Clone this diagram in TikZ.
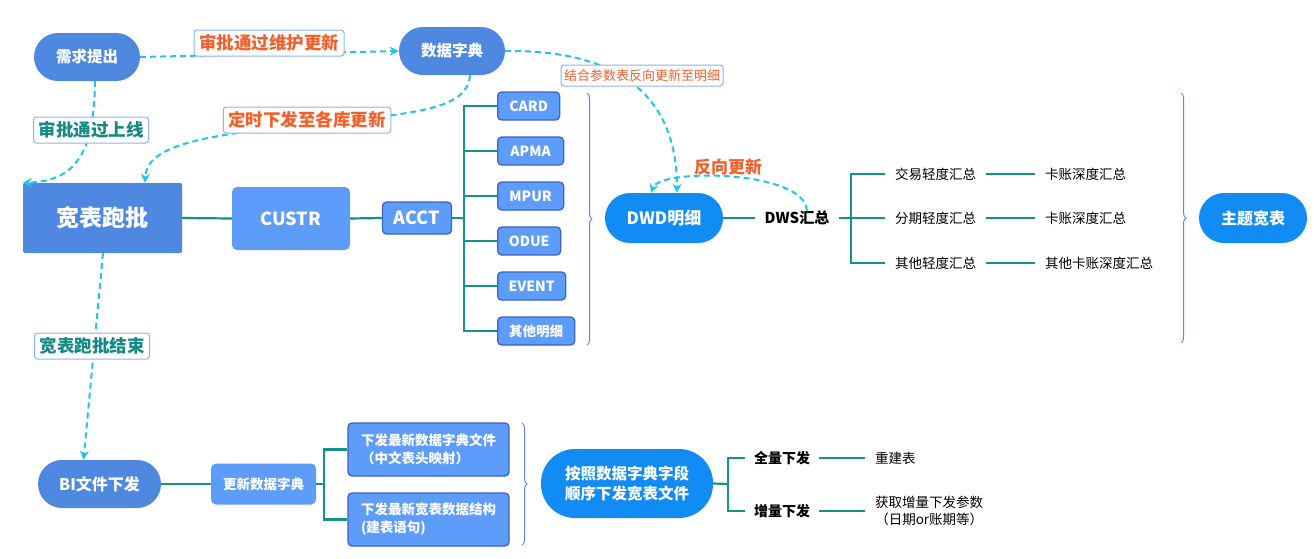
\documentclass[tikz,border=0pt]{standalone}
\usepackage{fontspec}
\newfontfamily\cjk{Noto Sans CJK SC}
\usetikzlibrary{arrows.meta,decorations.pathreplacing}
\definecolor{pillA}{HTML}{4F88E0}
\definecolor{boxB}{HTML}{5E9CFA}
\definecolor{boxEdge}{HTML}{3D63C6}
\definecolor{pillC}{HTML}{118CF4}
\definecolor{tealC}{HTML}{14918A}
\definecolor{cyanD}{HTML}{22C4EE}
\definecolor{orangeT}{HTML}{F2602C}
\definecolor{tealT}{HTML}{138A84}
\definecolor{lblEdge}{HTML}{8CB2F4}
\definecolor{braceC}{HTML}{5A86E4}
\newcommand\fsz[2]{\fontsize{#1}{#2}\selectfont}
\begin{document}
\begin{tikzpicture}[x=1pt,y=-1pt,
  every node/.style={font=\cjk, inner sep=0pt},
  pillD/.style={fill=pillA, rounded corners=24pt, text=white, font=\cjk\bfseries\fsz{15.5}{19}},
  pillB/.style={fill=pillC, rounded corners=25pt, text=white, font=\cjk\bfseries\fsz{16}{19}},
  boxL/.style={fill=boxB, rounded corners=5pt, text=white, font=\cjk\bfseries\fsz{18}{21}},
  boxS/.style={fill=boxB, draw=boxEdge, line width=1.3pt, rounded corners=4pt, text=white, font=\cjk\bfseries\fsz{14}{18}},
  leaf/.style={text=black, inner xsep=10pt, font=\cjk\fsz{13.5}{17}},
  mid/.style={text=black, inner xsep=10pt, font=\cjk\bfseries\fsz{14}{17}},
  lblO/.style={fill=white, draw=lblEdge, line width=1pt, rounded corners=3pt, inner xsep=5pt, minimum height=26pt, text=orangeT, font=\cjk\bfseries\fsz{17.5}{20}},
  lblT/.style={lblO, text=tealT},
  tline/.style={draw=tealC, line width=2.2pt},
  dline/.style={draw=cyanD, line width=2pt, dash pattern=on 6pt off 4pt, -{Stealth[length=9pt,width=9pt,inset=3pt]}},
  bracel/.style={draw=braceC, line width=1pt, decorate, decoration={brace, amplitude=5pt}}
]
\fill[white] (0,0) rectangle (1314,558);
\useasboundingbox (0,0) rectangle (1314,558);

% main nodes
\node[pillD, minimum width=106pt, minimum height=48pt] (req) at (87,57) {需求提出};
\node[pillD, minimum width=106pt, minimum height=48pt] (dict) at (452,51) {数据字典};
\node[fill=pillA, minimum width=159pt, minimum height=70pt, rounded corners=2pt, text=white, font=\cjk\bfseries\fsz{23}{27}] (wide) at (102.5,218) {宽表跑批};
\node[boxL, minimum width=118pt, minimum height=63pt] (custr) at (291,218.5) {CUSTR};
\node[boxS, minimum width=69pt, minimum height=32pt, font=\cjk\bfseries\fsz{18}{21}] (acct) at (417,218) {ACCT};
\node[boxS, anchor=west, minimum width=62pt, minimum height=28pt] (card) at (497,106) {CARD};
\node[boxS, anchor=west, minimum width=66pt, minimum height=28pt] (apma) at (497,151) {APMA};
\node[boxS, anchor=west, minimum width=66pt, minimum height=28pt] (mpur) at (497,196) {MPUR};
\node[boxS, anchor=west, minimum width=63pt, minimum height=28pt] (odue) at (497,241) {ODUE};
\node[boxS, anchor=west, minimum width=68pt, minimum height=28pt] (event) at (497,286) {EVENT};
\node[boxS, anchor=west, minimum width=77pt, minimum height=28pt, font=\cjk\bfseries\fsz{13.5}{17}] (other) at (497,331) {其他明细};

\node[pillB, minimum width=118pt, minimum height=50pt, font=\cjk\bfseries\fsz{17}{20}] (dwd) at (664,218) {DWD明细};
\node[mid, font=\cjk\bfseries\fsz{15}{18}] (dws) at (797,218) {DWS汇总};
\node[leaf, anchor=west] (l1) at (885,174) {交易轻度汇总};
\node[leaf, anchor=west] (l2) at (885,218) {分期轻度汇总};
\node[leaf, anchor=west] (l3) at (885,263) {其他轻度汇总};
\node[leaf, anchor=west] (d1) at (1035,174) {卡账深度汇总};
\node[leaf, anchor=west] (d2) at (1035,218) {卡账深度汇总};
\node[leaf, anchor=west] (d3) at (1035,263) {其他卡账深度汇总};
\node[pillB, minimum width=108pt, minimum height=50pt] (theme) at (1253,218) {主题宽表};

\node[pillD, minimum width=123pt, minimum height=48pt, font=\cjk\bfseries\fsz{16}{19}] (bi) at (99.5,484) {BI文件下发};
\node[boxL, minimum width=105pt, minimum height=41pt, font=\cjk\bfseries\fsz{13.5}{17}] (upd) at (263.5,484) {更新数据字典};
\node[boxS, minimum width=161pt, minimum height=53pt, align=left, font=\cjk\bfseries\fsz{13.5}{18}] (f1) at (428.5,449.5) {下发最新数据字典文件\\（中文表头映射）};
\node[boxS, minimum width=161pt, minimum height=53pt, align=left, font=\cjk\bfseries\fsz{13.5}{18}] (f2) at (428.5,519.5) {下发最新宽表数据结构\\(建表语句)};
\node[pillB, minimum width=172pt, minimum height=69pt, rounded corners=34pt, align=center, font=\cjk\bfseries\fsz{15.5}{19.5}] (order) at (627,483.5) {按照数据字典字段\\顺序下发宽表文件};
\node[mid, anchor=west, inner xsep=9pt] (full) at (745,458) {全量下发};
\node[mid, anchor=west, inner xsep=9pt] (incr) at (745,511) {增量下发};
\node[leaf, anchor=west] (rebuild) at (865,458) {重建表};
\node[leaf, anchor=west, align=center, font=\cjk\fsz{13.5}{17}] (param) at (865,511) {获取增量下发参数\\（日期or账期等）};

% tree connectors
\coordinate (tA) at (464,218);
\coordinate (tB) at (851,218);
\coordinate (tC) at (324,484);
\coordinate (tD) at (728,484);
\draw[tline] (wide.east) -- (custr.west);
\draw[tline] (custr.east) -- (acct.west);
\draw[tline] (acct.east) -- (tA);
\foreach \n in {card,apma,mpur,odue,event,other} \draw[tline] (tA) |- (\n.west);
\draw[tline] (dwd.east) -- (dws.west);
\draw[tline] (dws.east) -- (tB);
\foreach \n in {l1,l2,l3} \draw[tline] (tB) |- (\n.west);
\draw[tline] (l1.east) -- (d1.west);
\draw[tline] (l2.east) -- (d2.west);
\draw[tline] (l3.east) -- (d3.west);
\draw[tline] (bi.east) -- (upd.west);
\draw[tline] (upd.east) -- (tC);
\foreach \n in {f1,f2} \draw[tline] (tC) |- (\n.west);
\draw[tline] (order.east) -- (tD);
\foreach \n in {full,incr} \draw[tline] (tD) |- (\n.west);
\draw[tline] (full.east) -- (rebuild.west);
\draw[tline] (incr.east) -- (param.west);

% braces
\draw[bracel] (587,93) -- (587,345);
\draw[bracel] (1181,93) -- (1181,343);
\draw[bracel] (522,423) -- (522,545);

% dashed connectors
\draw[dline] (req.east) -- (dict.west);
\draw[dline] ([xshift=8pt]req.south) .. controls (94,150) and (78,181) .. (wide.north west);
\draw[dline] ([xshift=18pt]dict.south) .. controls (468,108) and (420,113) .. (330,122) .. controls (200,135) and (147,145) .. ([xshift=42.5pt]wide.north);
\draw[dline] (dict.east) .. controls (590,50) and (677,75) .. ([xshift=13pt]dwd.north);
\draw[dline] ([xshift=10pt]dws.north) .. controls (805,170) and (660,168) .. ([xshift=-13pt]dwd.north);
\draw[dline] ([xshift=0.5pt]wide.south) -- ([xshift=-16pt]bi.north);

% labels
\node[lblO] (la) at (269,43) {审批通过维护更新};
\node[lblT] (lb) at (91,130) {审批通过上线};
\node[lblO] (lc) at (307,120) {定时下发至各库更新};
\node[lblO, minimum height=21pt, inner xsep=3pt, font=\cjk\fsz{13}{16}] (ld) at (642,75.5) {结合参数表反向更新至明细};
\node[text=orangeT, font=\cjk\bfseries\fsz{17}{20}] (le) at (728,167) {反向更新};
\node[lblT] (lf) at (92,346) {宽表跑批结束};
\end{tikzpicture}
\end{document}
